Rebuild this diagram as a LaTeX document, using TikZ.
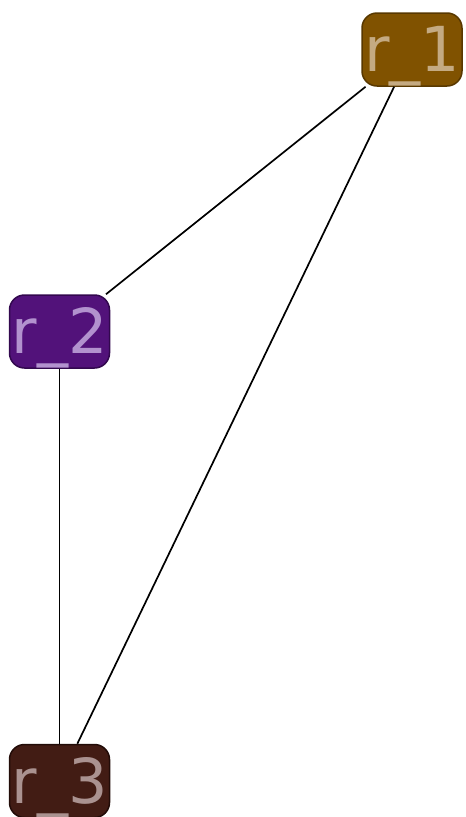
\documentclass[tikz,border=0pt]{standalone}
\usepackage{fontspec}
\setmainfont{DejaVu Sans}
\usepackage{tikz}
\definecolor{rfillone}{RGB}{128,82,0}
\definecolor{rdrawone}{RGB}{88,56,0}
\definecolor{rtextone}{RGB}{196,170,130}
\definecolor{rfilltwo}{RGB}{82,18,122}
\definecolor{rdrawtwo}{RGB}{50,8,78}
\definecolor{rtexttwo}{RGB}{178,146,206}
\definecolor{rfillthree}{RGB}{66,28,20}
\definecolor{rdrawthree}{RGB}{34,12,8}
\definecolor{rtextthree}{RGB}{170,146,144}
\tikzset{rnode/.style={draw,line width=1.5pt,rounded corners=15pt,minimum width=100pt,
 minimum height=73pt,inner sep=0pt,text height=44pt,text depth=0pt,font=\fontsize{62}{62}\selectfont},
 link/.style={line width=1.7pt}}

\begin{document}
\begin{tikzpicture}[x=1pt,y=1pt]
\useasboundingbox (0,0) rectangle (466,-817);
\node[rnode,fill=rfillone,draw=rdrawone,text=rtextone] (r1) at (412,-49.5) {r\_1};
\node[rnode,fill=rfilltwo,draw=rdrawtwo,text=rtexttwo] (r2) at (59.5,-331.5) {r\_2};
\node[rnode,fill=rfillthree,draw=rdrawthree,text=rtextthree] (r3) at (59.5,-781) {r\_3};
\draw[link] (r1)--(r2);
\draw[link] (r1)--(r3);
\draw[link] (r2)--(r3);
\end{tikzpicture}
\end{document}
